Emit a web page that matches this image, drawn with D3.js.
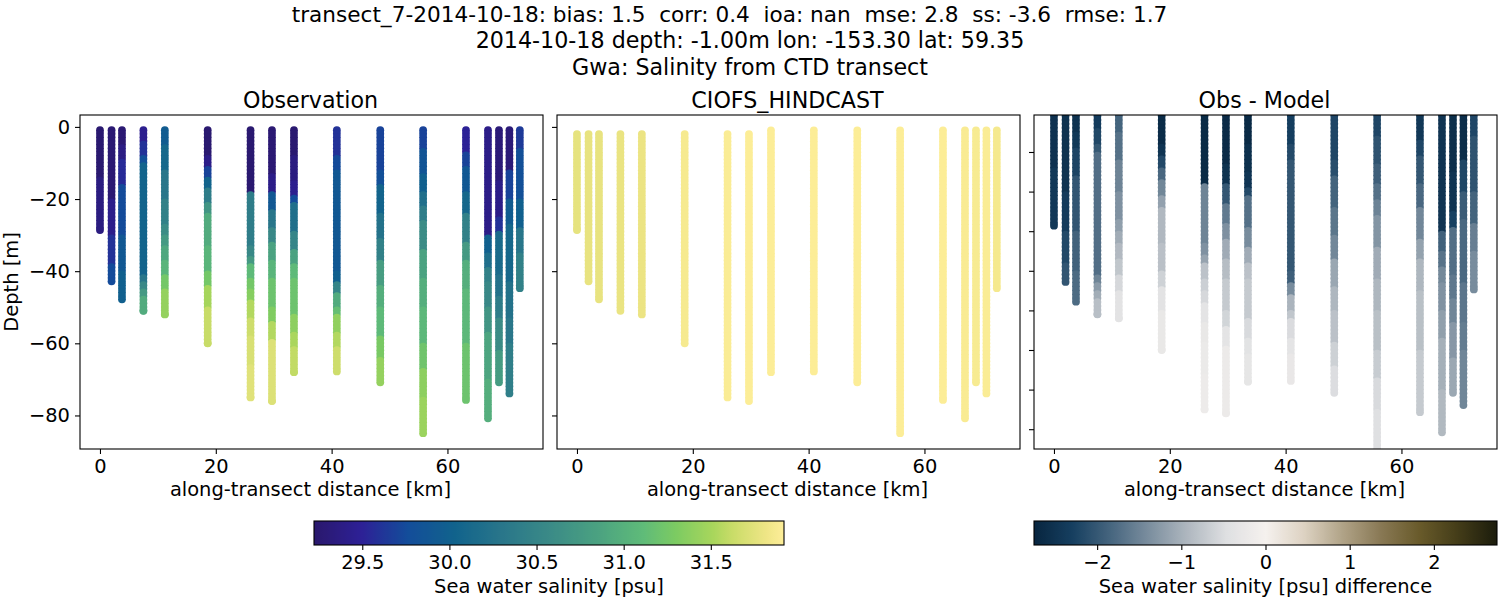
<!DOCTYPE html>
<html>
<head>
<meta charset="utf-8">
<script src="https://cdn.jsdelivr.net/npm/d3@7"></script>
<style>
body { margin: 0; background: #fff; }
text { font-family: "DejaVu Sans", sans-serif; fill: #000; }
</style>
</head>
<body>
<svg id="fig" width="1500" height="600"></svg>
<script>
var titleLines = [
  "transect_7-2014-10-18: bias: 1.5  corr: 0.4  ioa: nan  mse: 2.8  ss: -3.6  rmse: 1.7",
  "2014-10-18 depth: -1.00m lon: -153.30 lat: 59.35",
  "Gwa: Salinity from CTD transect"
];
var panelTitles = ["Observation", "CIOFS_HINDCAST", "Obs - Model"];

// stations along the transect
var stationKm = [0, 2, 3.8, 7.5, 11.2, 18.6, 26, 29.7, 33.5, 40.9, 48.4, 55.8, 63.2, 67, 68.9, 70.7, 72.5];
var stationBottom = [28.6, 42.8, 47.8, 51, 52, 60, 75, 76, 68, 67.8, 70.8, 84.9, 75.7, 80.8, 70.8, 73.9, 44.7];

// salinity: each value holds down to the depth at the same place
var obsRunEnds = [
  [14, 29],
  [20, 30, 38, 43],
  [5, 9, 16, 30, 40, 48],
  [4, 8, 10, 41, 43, 45, 47, 51],
  [5, 12, 20, 27, 30, 33, 37, 41, 45, 52],
  [8, 11, 14, 17, 21, 24, 33, 40, 44, 50, 60],
  [18, 33, 36, 38, 42, 45, 48, 53, 58, 66, 75],
  [13, 18, 23, 28, 32, 37, 42, 50, 54.5, 59, 76],
  [8, 15, 19, 21.7, 29, 34, 38, 42, 52, 57, 61, 68],
  [8.7, 12.4, 40, 43, 46.6, 50, 52.7, 57, 61, 68],
  [12, 16, 24, 31, 37, 44, 50, 58, 64, 71],
  [6, 13, 18, 22, 26, 34, 42, 50, 60, 67, 75, 85],
  [7, 11.5, 18, 24, 32, 37, 45, 60, 76],
  [30, 35.5, 39, 43, 50, 57, 70, 81],
  [15, 25, 29.5, 41, 47, 53, 62, 71],
  [12.4, 20, 27, 43, 53, 60, 74],
  [6, 20, 28, 35, 45]
];
var obsRunValues = [
  [29.25, 29.35],
  [29.27, 29.42, 29.6, 29.75],
  [29.27, 29.38, 29.55, 29.75, 29.9, 30.0],
  [29.45, 29.6, 29.8, 30.05, 30.3, 30.55, 30.75, 30.95],
  [29.95, 30.1, 30.3, 30.45, 30.6, 30.75, 30.9, 31.05, 31.25, 31.42],
  [29.25, 29.4, 29.7, 30.05, 30.4, 30.7, 30.95, 31.05, 31.25, 31.5, 31.62],
  [29.25, 30.4, 30.55, 30.75, 31.1, 31.25, 31.35, 31.55, 31.65, 31.7, 31.74],
  [29.27, 29.4, 29.9, 30.3, 30.55, 30.85, 31.05, 31.2, 31.32, 31.55, 31.72],
  [29.25, 29.35, 29.45, 29.75, 30.2, 30.5, 30.85, 31.1, 31.2, 31.38, 31.52, 31.6],
  [29.6, 29.75, 29.9, 30.0, 30.5, 30.95, 31.15, 31.4, 31.55, 31.65],
  [29.7, 29.8, 30.05, 30.25, 30.45, 30.8, 30.98, 31.1, 31.28, 31.42],
  [29.7, 29.85, 30.0, 30.2, 30.4, 30.6, 30.85, 30.98, 31.08, 31.22, 31.38, 31.45],
  [29.5, 29.7, 29.9, 30.1, 30.45, 30.75, 30.98, 31.08, 31.2],
  [29.4, 30.0, 30.2, 30.45, 30.55, 30.7, 30.88, 30.98],
  [29.3, 29.4, 29.6, 30.15, 30.25, 30.4, 30.6, 30.78],
  [29.3, 29.7, 29.95, 30.1, 30.25, 30.32, 30.42],
  [29.65, 29.8, 30.0, 30.3, 30.45]
];

// model is nearly uniform per station
var modelTop = [2, 2, 2, 2, 2, 2, 2, 2, 1, 1, 1, 1, 1, 1, 1, 1, 1];
var modelValues = [31.77, 31.78, 31.78, 31.79, 31.8, 31.87, 31.9, 31.91, 31.91, 31.91, 31.91, 31.91, 31.91, 31.89, 31.88, 31.9, 31.86];

var xTicks = [0, 20, 40, 60];
var yTicks = [0, -20, -40, -60, -80];
var diffYTicks = [-10, -20, -30, -40, -50, -60, -70, -80];
var salinityTicks = [29.5, 30, 30.5, 31, 31.5];
var diffTicks = [-2, -1, 0, 1, 2];
var salinityRange = [29.223, 31.92];
var diffRange = [-2.75, 2.75];

var halineStops = [0, 0.1, 0.2, 0.3, 0.4, 0.5, 0.6, 0.7, 0.77, 0.85, 0.89, 0.96, 1];
var halineColors = ["#2a186c", "#2d2096", "#134d9a", "#11638c", "#29768a", "#3a8a87", "#4aa181", "#5fbb79", "#7ccb62", "#a9d65c", "#c9dc68", "#eee585", "#fdee99"];
var diffColors = ["#07253f", "#163f60", "#47667f", "#7c8f9f", "#b0b8c0", "#dfe0e2", "#f5f1ee", "#ddd2c2", "#b0a387", "#887854", "#685a2a", "#433c18", "#1b1c0c"];

var svg = d3.select("#fig");
var defs = svg.append("defs");

var salinityColor = d3.scaleLinear()
  .domain(halineStops.map(function(t) { return salinityRange[0] + t * (salinityRange[1] - salinityRange[0]); }))
  .range(halineColors);
var diffColor = d3.scaleLinear()
  .domain(d3.quantize(d3.interpolate(diffRange[0], diffRange[1]), diffColors.length))
  .range(diffColors);

var obsAt = function(i, depth) {
  var ends = obsRunEnds[i];
  var k = d3.bisectLeft(ends, depth);
  return obsRunValues[i][Math.min(k, ends.length - 1)];
};

// one dot per metre, last dot sits on the cast bottom
var castDepths = function(i, start) {
  var ds = d3.range(start, stationBottom[i], 1);
  ds.push(stationBottom[i]);
  return ds;
};

var obsPoints = [], modelPoints = [], diffPoints = [];
stationKm.forEach(function(km, i) {
  castDepths(i, 0.9).forEach(function(d) {
    obsPoints.push({km: km, depth: -d, value: obsAt(i, d)});
    diffPoints.push({km: km, depth: -d, value: obsAt(i, d) - modelValues[i]});
  });
  castDepths(i, modelTop[i]).forEach(function(d) {
    modelPoints.push({km: km, depth: -d, value: modelValues[i]});
  });
});

var tickFont = "19.44px";
var panelW = 463, panelTop = 115, panelBottom = 449;
var panels = [
  {left: 80, points: obsPoints, color: salinityColor, yDomain: [-89.3, 3.3], ticks: yTicks, labels: true},
  {left: 557, points: modelPoints, color: salinityColor, yDomain: [-89.3, 3.3], ticks: yTicks, labels: false},
  {left: 1034, points: diffPoints, color: diffColor, yDomain: [-85, -0.66], ticks: diffYTicks, labels: false}
];

panels.forEach(function(p, i) {
  var x = d3.scaleLinear().domain([-3.45, 76.5]).range([p.left, p.left + panelW]);
  var y = d3.scaleLinear().domain(p.yDomain).range([panelBottom, panelTop]);

  defs.append("clipPath").attr("id", "clip" + i)
    .append("rect")
    .attr("x", p.left).attr("y", panelTop)
    .attr("width", panelW).attr("height", panelBottom - panelTop);

  svg.append("g").attr("clip-path", "url(#clip" + i + ")")
    .selectAll("circle")
    .data(p.points)
    .enter()
    .append("circle")
    .attr("cx", function(d) { return x(d.km); })
    .attr("cy", function(d) { return y(d.depth); })
    .attr("r", 3.9)
    .attr("fill", function(d) { return p.color(d.value); });

  var xAxis = svg.append("g")
    .attr("transform", "translate(0," + panelBottom + ")")
    .call(d3.axisBottom(x).tickValues(xTicks).tickSize(5).tickPadding(5));
  var yAxis = svg.append("g")
    .attr("transform", "translate(" + p.left + ",0)")
    .call(d3.axisLeft(y).tickValues(p.ticks).tickSize(5).tickPadding(5)
      .tickFormat(p.labels ? d3.format("d") : ""));
  [xAxis, yAxis].forEach(function(a) {
    a.select(".domain").remove();
    a.selectAll("line").attr("stroke", "#000").attr("stroke-width", 1.1);
    a.selectAll("text").style("font-family", '"DejaVu Sans"').style("font-size", tickFont).attr("fill", "#000");
  });

  svg.append("rect")
    .attr("x", p.left).attr("y", panelTop)
    .attr("width", panelW).attr("height", panelBottom - panelTop)
    .attr("fill", "none").attr("stroke", "#000").attr("stroke-width", 1.1);

  svg.append("text")
    .attr("x", p.left + panelW / 2 - 1).attr("y", 108)
    .attr("text-anchor", "middle").style("font-size", "22.2px")
    .text(panelTitles[i]);
  svg.append("text")
    .attr("x", p.left + panelW / 2 - 1).attr("y", 496)
    .attr("text-anchor", "middle").style("font-size", tickFont)
    .text("along-transect distance [km]");
});

svg.append("text")
  .attr("transform", "translate(18," + (panelTop + panelBottom) / 2 + ") rotate(-90)")
  .attr("text-anchor", "middle").style("font-size", tickFont)
  .text("Depth [m]");

// first title line carries trailing blanks in the original, so it sits left of centre
svg.selectAll("text.suptitle")
  .data(titleLines)
  .enter()
  .append("text")
  .attr("class", "suptitle")
  .attr("x", function(d, i) { return i === 0 ? 729.5 : 750; })
  .attr("y", function(d, i) { return 21.5 + i * 26.5; })
  .attr("text-anchor", "middle")
  .style("font-size", function(d, i) { return i === 0 ? "21.6px" : "22.2px"; })
  .style("white-space", "pre")
  .attr("xml:space", "preserve")
  .text(function(d) { return d; });

// colorbars
var drawBar = function(id, left, right, domain, color, ticks, fmt, label) {
  var top = 521, bottom = 545;
  var x = d3.scaleLinear().domain(domain).range([left, right]);
  defs.append("linearGradient").attr("id", id)
    .selectAll("stop")
    .data(d3.range(257))
    .enter()
    .append("stop")
    .attr("offset", function(k) { return k / 256; })
    .attr("stop-color", function(k) { return color(domain[0] + (domain[1] - domain[0]) * k / 256); });
  svg.append("rect")
    .attr("x", left).attr("y", top)
    .attr("width", right - left).attr("height", bottom - top)
    .attr("fill", "url(#" + id + ")")
    .attr("stroke", "#000").attr("stroke-width", 1.1);
  var axis = svg.append("g")
    .attr("transform", "translate(0," + bottom + ")")
    .call(d3.axisBottom(x).tickValues(ticks).tickSize(5).tickPadding(5).tickFormat(fmt));
  axis.select(".domain").remove();
  axis.selectAll("line").attr("stroke", "#000").attr("stroke-width", 1.1);
  axis.selectAll("text").style("font-family", '"DejaVu Sans"').style("font-size", tickFont).attr("fill", "#000");
  svg.append("text")
    .attr("x", (left + right) / 2).attr("y", 593)
    .attr("text-anchor", "middle").style("font-size", tickFont)
    .text(label);
};

drawBar("barObs", 314, 784, salinityRange, salinityColor, salinityTicks, d3.format(".1f"), "Sea water salinity [psu]");
drawBar("barDiff", 1034, 1497, diffRange, diffColor, diffTicks, d3.format("d"), "Sea water salinity [psu] difference");
</script>
</body>
</html>
